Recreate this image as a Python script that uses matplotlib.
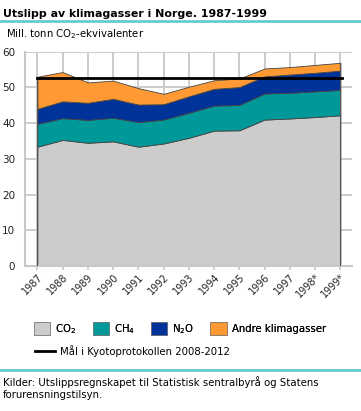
import numpy as np
import matplotlib
matplotlib.use("Agg")
import matplotlib.pyplot as plt
from matplotlib.patches import Patch
from matplotlib.lines import Line2D

years = np.arange(1987, 2000)
year_labels = ["1987", "1988", "1989", "1990", "1991", "1992", "1993",
               "1994", "1995", "1996", "1997", "1998*", "1999*"]
co2 = [33.4, 35.3, 34.5, 34.9, 33.4, 34.3, 35.9, 37.9, 38.0, 41.0, 41.3, 41.7, 42.2]
ch4 = [6.4, 6.1, 6.4, 6.6, 6.9, 6.7, 7.0, 7.0, 7.1, 7.3, 7.2, 7.2, 7.1]
n2o = [4.2, 4.7, 4.8, 5.3, 4.9, 4.3, 4.6, 4.7, 5.0, 4.8, 5.1, 5.2, 5.4]
andre = [9.0, 8.2, 5.7, 5.1, 4.6, 2.9, 2.7, 2.4, 2.4, 2.2, 2.1, 2.2, 2.2]
kyoto = 52.7

names = ["CO$_2$", "CH$_4$", "N$_2$O", "Andre klimagasser"]
colors = ["#cccccc", "#009999", "#003399", "#ff9933"]

plt.rcParams['font.family'] = ['DejaVu Sans']
fig = plt.figure(figsize=(3.61, 4.11), dpi=100)

ax = fig.add_axes([25/361, 145/411, 327/361, (266-51.7)/411])
ax.stackplot(years, co2, ch4, n2o, andre, colors=colors,
             edgecolor="#444444", linewidth=0.6, zorder=2)
totals = [sum(v) for v in zip(co2, ch4, n2o, andre)]
ax.vlines([years[0], years[-1]], 0, [totals[0], totals[-1]],
          color="#555555", lw=0.8, zorder=3)
ax.axhline(kyoto, xmin=(1987-1986.51)/(1999.46-1986.51),
           xmax=(1999.05-1986.51)/(1999.46-1986.51), color="black", lw=2, zorder=4)

ax.set_xlim(1986.51, 1999.46)
ax.set_ylim(0, 60)
ax.set_yticks(range(0, 61, 10))
ax.set_xticks(years)
ax.set_xticklabels(year_labels, rotation=45, ha="right", rotation_mode="anchor",
                   fontsize=7)
ax.tick_params(axis="y", length=0, labelsize=7.5, pad=7, colors="#222222")
ax.tick_params(axis="x", length=3, color="#c8c8c8", width=1.2, pad=1,
               colors="#222222")
ax.grid(True, color="#c8c8c8", lw=1.3, zorder=0)
ax.set_axisbelow(True)
for s in ["top", "right"]:
    ax.spines[s].set_visible(False)
for s in ["left", "bottom"]:
    ax.spines[s].set_color("#c8c8c8")
    ax.spines[s].set_linewidth(1.5)

fig.text(3/361, 1 - 14/411, "Utslipp av klimagasser i Norge. 1987-1999",
         fontsize=7.9, fontweight="bold", va="center")
fig.add_artist(Line2D([0, 1], [1 - 21/411] * 2, color="#66cccc", lw=2))
fig.text(6/361, 1 - 34/411, "Mill. tonn CO$_2$-ekvivalenter", fontsize=7.3, va="center")

handles = [Patch(facecolor=c, edgecolor="#777777", lw=0.5) for c in colors]
leg1 = fig.legend(handles, names, loc="center left", ncol=4,
                  bbox_to_anchor=(29/361, 1 - 329/411), frameon=False,
                  fontsize=7.3, handlelength=1.6, handleheight=1.6,
                  handletextpad=0.5, columnspacing=1.6, borderpad=0)
fig.legend([Line2D([], [], color="black", lw=2)],
           ["Mål i Kyotoprotokollen 2008-2012"], loc="center left",
           bbox_to_anchor=(30/361, 1 - 351/411), frameon=False, fontsize=7.3,
           handlelength=2.0, handletextpad=0.5, borderpad=0)
fig.add_artist(leg1)

fig.add_artist(Line2D([0, 1], [1 - 370/411] * 2, color="#66cccc", lw=2))
fig.text(3/361, 1 - 382/411,
         "Kilder: Utslippsregnskapet til Statistisk sentralbyrå og Statens",
         fontsize=7.3, va="center")
fig.text(3/361, 1 - 395/411, "forurensningstilsyn.", fontsize=7.3, va="center")

fig.savefig("out.png", dpi=100)
